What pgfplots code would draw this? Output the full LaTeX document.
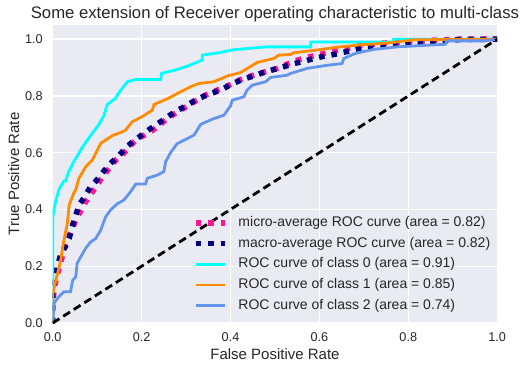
\documentclass[border=0pt]{standalone}
\usepackage{fontspec}
\setmainfont{Liberation Sans}
\usepackage{pgfplots}
\pgfplotsset{compat=1.18}
\definecolor{bg}{HTML}{EAEAF2}
\definecolor{txt}{HTML}{262626}
\definecolor{dpink}{HTML}{FF1493}
\definecolor{navyc}{HTML}{000080}
\definecolor{aquac}{HTML}{00FFFF}
\definecolor{dorange}{HTML}{FF8C00}
\definecolor{cfblue}{HTML}{6495ED}
\begin{document}
\begin{tikzpicture}
\begin{axis}[
  at={(0,0)}, anchor=south west,
  scale only axis, width=444.5pt, height=298pt,
  xmin=0, xmax=1, ymin=0, ymax=1.05,
  xtick={0,0.2,0.4,0.6,0.8,1.0}, ytick={0,0.2,0.4,0.6,0.8,1.0},
  xticklabels={0.0,0.2,0.4,0.6,0.8,1.0},
  yticklabels={0.0,0.2,0.4,0.6,0.8,1.0},
  /pgf/number format/assume math mode=true,
  axis background/.style={fill=bg},
  axis line style={draw=none},
  major tick length=0pt, tick style={draw=none},
  grid=major, major grid style={white, line width=1.4pt},
  ticklabel style={font=\fontsize{12.7}{14}\selectfont, text=txt, inner sep=0pt},
  xticklabel style={anchor=base, yshift=-18.7pt},
  yticklabel style={anchor=east, xshift=-9.7pt},
  title={Some extension of Receiver operating characteristic to multi-class},
  every axis title/.style={at={(axis description cs:0.5,1)}, anchor=base, yshift=6pt, inner sep=0pt, font=\fontsize{16.7}{19}\selectfont, text=txt},
  xlabel={False Positive Rate},
  ylabel={True Positive Rate},
  every axis x label/.style={at={(axis description cs:0.5,-0.1225)}, anchor=base, inner sep=0pt, font=\fontsize{15}{17}\selectfont, text=txt},
  every axis y label/.style={at={(axis description cs:-0.0758,0.5)}, rotate=90, anchor=base, inner sep=0pt, font=\fontsize{15}{17}\selectfont, text=txt},
  legend style={at={(axis cs:0.3156,0.3753)}, anchor=north west, draw=none, fill=none,
    inner sep=0pt, outer sep=0pt, font=\fontsize{14}{16}\selectfont, text=txt,
    nodes={inner sep=0pt, text height=10pt, text depth=3pt},
    row sep=7.65pt, column sep=11pt},
  legend cell align=left,
  legend image code/.code={\draw[#1] (0pt,0pt) -- (29pt,0pt);},
]
\addplot[dpink, line width=5.5pt, dash pattern=on 5.5pt off 7pt] coordinates {
(0,0)(0.0,0.06)(0.003,0.116)(0.008,0.155)(0.014,0.192)(0.02,0.225)(0.025,0.257)(0.032,0.29)(0.04,0.316)(0.046,0.34)(0.052,0.363)(0.063,0.395)(0.074,0.427)(0.087,0.457)(0.10,0.486)(0.112,0.515)(0.127,0.545)(0.142,0.574)(0.159,0.597)(0.175,0.625)(0.19,0.65)(0.207,0.662)(0.224,0.678)(0.242,0.70)(0.261,0.724)(0.282,0.745)(0.303,0.764)(0.323,0.784)(0.344,0.803)(0.374,0.823)(0.404,0.843)(0.426,0.86)(0.445,0.87)(0.464,0.879)(0.485,0.888)(0.505,0.897)(0.527,0.912)(0.55,0.926)(0.572,0.936)(0.595,0.944)(0.617,0.952)(0.64,0.961)(0.662,0.967)(0.685,0.975)(0.707,0.979)(0.733,0.985)(0.752,0.987)(0.8,0.99)(0.85,0.996)(0.917,1.0)(1,1)};
\addlegendentry{micro-average ROC curve (area = 0.82)}
\addplot[navyc, line width=5.5pt, dash pattern=on 5.5pt off 7pt] coordinates {
(0,0)(0,0.122)(0.005,0.157)(0.01,0.198)(0.018,0.24)(0.028,0.269)(0.037,0.298)(0.044,0.34)(0.052,0.38)(0.059,0.415)(0.073,0.447)(0.085,0.48)(0.10,0.505)(0.115,0.535)(0.13,0.562)(0.149,0.59)(0.166,0.62)(0.183,0.642)(0.2,0.662)(0.22,0.685)(0.239,0.705)(0.258,0.726)(0.279,0.748)(0.299,0.764)(0.319,0.783)(0.34,0.799)(0.361,0.811)(0.384,0.826)(0.406,0.844)(0.426,0.858)(0.451,0.87)(0.471,0.881)(0.497,0.893)(0.52,0.903)(0.542,0.914)(0.565,0.922)(0.587,0.932)(0.61,0.94)(0.632,0.946)(0.658,0.955)(0.681,0.964)(0.703,0.973)(0.726,0.975)(0.752,0.979)(0.775,0.985)(0.797,0.989)(0.846,0.99)(0.868,0.993)(0.894,0.996)(0.917,0.999)(1,1)};
\addlegendentry{macro-average ROC curve (area = 0.82)}
\addplot[aquac, line width=2.8pt] coordinates {
(0,0)(0,0.37)(0.003,0.40)(0.007,0.43)(0.014,0.47)(0.025,0.50)(0.029,0.50)(0.035,0.53)(0.048,0.57)(0.067,0.62)(0.085,0.66)(0.104,0.70)(0.115,0.73)(0.123,0.77)(0.14,0.79)(0.153,0.82)(0.168,0.85)(0.187,0.858)(0.243,0.858)(0.245,0.88)(0.273,0.89)(0.303,0.905)(0.336,0.926)(0.337,0.944)(0.373,0.952)(0.407,0.963)(0.482,0.973)(0.58,0.973)(0.581,0.99)(0.766,0.99)(0.767,1.0)(1,1)};
\addlegendentry{ROC curve of class 0 (area = 0.91)}
\addplot[dorange, line width=2.8pt] coordinates {
(0,0)(0,0.10)(0.007,0.15)(0.018,0.22)(0.025,0.29)(0.033,0.35)(0.037,0.415)(0.048,0.46)(0.052,0.47)(0.059,0.51)(0.074,0.55)(0.089,0.574)(0.108,0.633)(0.134,0.66)(0.157,0.674)(0.164,0.68)(0.179,0.709)(0.20,0.726)(0.224,0.75)(0.228,0.77)(0.258,0.79)(0.288,0.815)(0.314,0.835)(0.329,0.844)(0.362,0.85)(0.396,0.872)(0.422,0.882)(0.46,0.918)(0.497,0.932)(0.509,0.944)(0.535,0.946)(0.542,0.952)(0.595,0.962)(0.636,0.971)(0.685,0.979)(0.756,0.987)(0.816,0.998)(1,1)};
\addlegendentry{ROC curve of class 1 (area = 0.85)}
\addplot[cfblue, line width=2.8pt] coordinates {
(0,0)(0.003,0.07)(0.014,0.093)(0.025,0.11)(0.04,0.11)(0.045,0.15)(0.052,0.163)(0.055,0.21)(0.063,0.233)(0.074,0.263)(0.085,0.285)(0.097,0.298)(0.108,0.327)(0.119,0.374)(0.13,0.398)(0.145,0.42)(0.16,0.433)(0.175,0.462)(0.187,0.49)(0.209,0.49)(0.213,0.51)(0.235,0.521)(0.25,0.533)(0.254,0.568)(0.265,0.6)(0.28,0.632)(0.303,0.65)(0.318,0.662)(0.333,0.70)(0.362,0.72)(0.385,0.732)(0.40,0.765)(0.404,0.785)(0.43,0.797)(0.437,0.82)(0.449,0.838)(0.479,0.85)(0.49,0.865)(0.527,0.873)(0.535,0.879)(0.572,0.897)(0.617,0.908)(0.651,0.914)(0.655,0.932)(0.681,0.95)(0.722,0.964)(0.775,0.973)(0.883,0.982)(0.887,0.994)(0.969,0.994)(1,1)};
\addlegendentry{ROC curve of class 2 (area = 0.74)}
\addplot[black, line width=2.8pt, dash pattern=on 8pt off 4.5pt, forget plot] coordinates {(0,0)(1,1)};
\end{axis}
\pgfresetboundingbox
\path[use as bounding box] (-52.7pt,-47pt) rectangle (474.3pt,323pt);
\end{tikzpicture}
\end{document}
